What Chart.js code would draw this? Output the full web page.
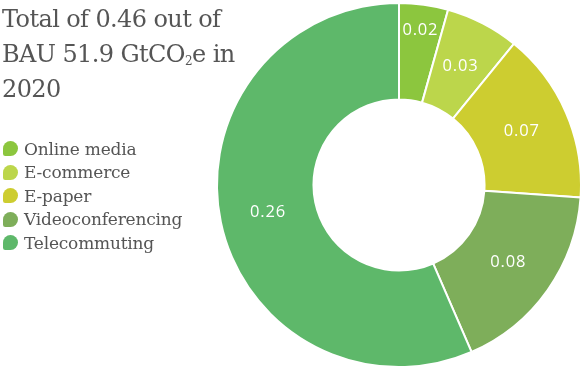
<!DOCTYPE html>
<html>
<head>
<meta charset="utf-8">
<script src="https://cdn.jsdelivr.net/npm/chart.js@4/dist/chart.umd.min.js"></script>
<style>
  body { margin: 0; background: #fff; }
  #wrap { position: relative; width: 584px; height: 372px; overflow: hidden; }
  #chart { position: absolute; left: 0; top: 0; }
  #title {
    position: absolute; left: 2px; top: 2px;
    font-family: "DejaVu Serif", serif; font-size: 24px; line-height: 35px;
    color: #555555; letter-spacing: -0.6px;
  }
  #title sub { font-size: 12px; vertical-align: -3px; line-height: 0; }
  #legend { position: absolute; left: 3px; top: 137px; }
  .item {
    display: flex; align-items: center; height: 23.5px;
    font-family: "DejaVu Serif", serif; font-size: 17px; color: #555555;
    letter-spacing: -0.2px;
  }
  .dot {
    width: 15px; height: 15px; margin-right: 6px;
    border-radius: 50% 50% 50% 15%;
  }
</style>
</head>
<body>
<div id="wrap">
  <canvas id="chart" width="584" height="372"></canvas>
  <div id="title">Total of 0.46 out of<br>BAU 51.9 GtCO<sub>2</sub>e in<br>2020</div>
  <div id="legend"></div>
</div>
<script>
// Data
const categories = ["Online media", "E-commerce", "E-paper", "Videoconferencing", "Telecommuting"];
const savings = [0.02, 0.03, 0.07, 0.08, 0.26];
const colors = ["#8cc63e", "#bcd64b", "#cdcd30", "#7eae5a", "#5eb86a"];

// Legend
document.getElementById("legend").innerHTML = categories.map((c, i) => `
  <div class="item"><span class="dot" style="background:${colors[i]}"></span>${c}</div>
`).join("");

// Value labels inside the slices
const sliceLabels = {
  id: "sliceLabels",
  afterDatasetsDraw(chart) {
    const ctx = chart.ctx;
    const meta = chart.getDatasetMeta(0);
    ctx.save();
    ctx.font = "16.5px 'Open Sans', sans-serif";
    ctx.letterSpacing = "0.8px";
    ctx.fillStyle = "#ffffff";
    ctx.textAlign = "center";
    ctx.textBaseline = "middle";
    meta.data.forEach((arc, i) => {
      const mid = (arc.startAngle + arc.endAngle) / 2;
      // narrow first slice gets its label pushed toward the rim
      const r = i === 0 ? arc.outerRadius * 0.86 : (arc.innerRadius + arc.outerRadius) / 2;
      ctx.fillText(savings[i].toFixed(2), arc.x + Math.cos(mid) * r, arc.y + Math.sin(mid) * r);
    });
    ctx.restore();
  }
};

new Chart(document.getElementById("chart"), {
  type: "doughnut",
  data: {
    labels: categories,
    datasets: [{
      data: savings,
      backgroundColor: colors,
      borderColor: "#ffffff",
      borderWidth: 2
    }]
  },
  options: {
    responsive: false,
    animation: false,
    cutout: "47%",
    layout: { padding: { left: 216, right: 2, top: 2, bottom: 4 } },
    plugins: { legend: { display: false }, tooltip: { enabled: false } }
  },
  plugins: [sliceLabels]
});
</script>
</body>
</html>
